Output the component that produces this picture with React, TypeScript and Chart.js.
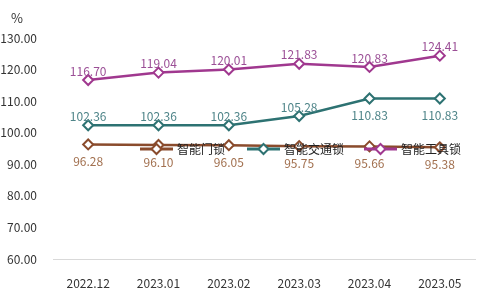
import React, { useEffect, useRef } from "react";
import { Chart, registerables } from "chart.js";

Chart.register(...registerables);

const categories = ["2022.12", "2023.01", "2023.02", "2023.03", "2023.04", "2023.05"];
const seriesNames = ["智能门锁", "智能交通锁", "智能工具锁"];
const doorLock = [96.28, 96.1, 96.05, 95.75, 95.66, 95.38];
const trafficLock = [102.36, 102.36, 102.36, 105.28, 110.83, 110.83];
const toolLock = [116.7, 119.04, 120.01, 121.83, 120.83, 124.41];
const trafficLabelBelow = [false, false, false, false, true, true];
const yTicks = [60, 70, 80, 90, 100, 110, 120, 130];

const FONT = '"Noto Sans CJK SC", "Noto Sans", sans-serif';
const lineColors = ["#8a4b2c", "#2d7272", "#a0388f"];
const labelColors = ["#a2704f", "#4f8589", "#9b4f96"];

const labelPlugin = {
  id: "valueLabels",
  afterDatasetsDraw(chart: any) {
    const ctx = chart.ctx;
    ctx.save();
    ctx.font = `12px ${FONT}`;
    ctx.textAlign = "center";
    ctx.textBaseline = "middle";
    chart.data.datasets.forEach((ds: any, di: number) => {
      const meta = chart.getDatasetMeta(di);
      meta.data.forEach((pt: any, i: number) => {
        const v = ds.data[i];
        let below = di === 0;
        if (di === 1) below = trafficLabelBelow[i];
        const dy = below ? 17 : -9;
        ctx.fillStyle = labelColors[di];
        ctx.fillText(v.toFixed(2), pt.x, pt.y + dy);
      });
    });
    ctx.restore();
  },
};

const legendPlugin = {
  id: "overlayLegend",
  afterDraw(chart: any) {
    const ctx = chart.ctx;
    const area = chart.chartArea;
    const y = (area.top + area.bottom) / 2 + 0.5;
    const starts = [140, 247, 364];
    ctx.save();
    ctx.font = `12px ${FONT}`;
    ctx.textBaseline = "middle";
    ctx.textAlign = "left";
    seriesNames.forEach((name, i) => {
      const x0 = starts[i];
      ctx.strokeStyle = lineColors[i];
      ctx.lineWidth = 3;
      ctx.beginPath();
      ctx.moveTo(x0, y);
      ctx.lineTo(x0 + 33, y);
      ctx.stroke();
      const cx = x0 + 16.5;
      const r = 5;
      ctx.beginPath();
      ctx.moveTo(cx, y - r);
      ctx.lineTo(cx + r, y);
      ctx.lineTo(cx, y + r);
      ctx.lineTo(cx - r, y);
      ctx.closePath();
      ctx.fillStyle = "#ffffff";
      ctx.fill();
      ctx.lineWidth = 2;
      ctx.stroke();
      ctx.fillStyle = "#222222";
      ctx.fillText(name, x0 + 37, y);
    });
    // unit label
    ctx.fillStyle = "#333333";
    ctx.font = `13px ${FONT}`;
    ctx.textAlign = "center";
    ctx.fillText("%", 17, 18);
    ctx.restore();
  },
};

export default function App() {
  const ref = useRef<HTMLCanvasElement>(null);
  useEffect(() => {
    document.body.style.margin = "0";
    const data = [doorLock, trafficLock, toolLock];
    const chart = new Chart(ref.current!, {
      type: "line",
      data: {
        labels: categories,
        datasets: seriesNames.map((n, i) => ({
          label: n,
          data: data[i],
          borderColor: lineColors[i],
          backgroundColor: "#ffffff",
          borderWidth: 2.5,
          pointStyle: "rectRot",
          pointRadius: 5,
          pointBorderWidth: 2,
          pointBackgroundColor: "#ffffff",
          pointBorderColor: lineColors[i],
          tension: 0,
        })),
      },
      options: {
        responsive: false,
        animation: false,
        layout: { padding: { top: 38, right: 3.5, bottom: 3, left: 0 } },
        plugins: { legend: { display: false }, tooltip: { enabled: false } },
        scales: {
          x: {
            offset: true,
            grid: { display: false, drawTicks: false },
            border: { display: true, color: "#d9d9d9", width: 1 },
            ticks: { color: "#333333", font: { family: FONT, size: 12 }, padding: 17, maxRotation: 0 },
            afterFit(scale: any) {
              scale.height = 32;
            },
          },
          y: {
            min: 60,
            max: 130,
            afterBuildTicks(scale: any) {
              scale.ticks = yTicks.map((v) => ({ value: v }));
            },
            afterFit(scale: any) {
              scale.width = 53;
            },
            grid: { display: false, drawTicks: false },
            border: { display: false },
            ticks: {
              color: "#333333",
              font: { family: FONT, size: 12 },
              padding: 16,
              callback: (v: any) => Number(v).toFixed(2),
            },
          },
        },
      },
      plugins: [labelPlugin, legendPlugin],
    });
    return () => chart.destroy();
  }, []);
  return <canvas ref={ref} width={482} height={294} style={{ display: "block" }} />;
}
